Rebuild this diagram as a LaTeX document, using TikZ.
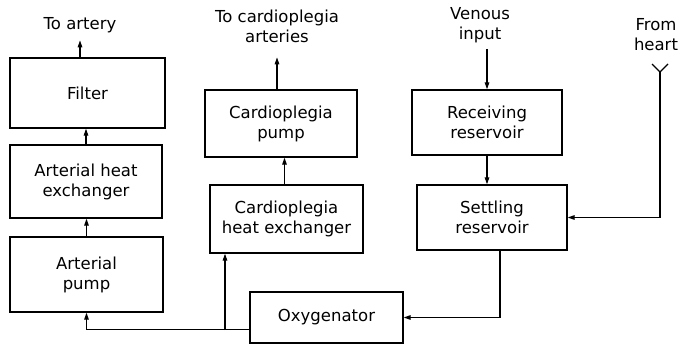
\documentclass[tikz,border=0pt]{standalone}
\usepackage{fontspec}
\setmainfont{DejaVu Sans}
\usepackage{tikz}
\usetikzlibrary{arrows.meta, positioning}

\begin{document}
\begin{tikzpicture}[
  x=1pt, y=-1pt,
  font=\fontsize{16.5}{20}\selectfont,
  blk/.style={draw, line width=1.3pt, align=center, inner sep=2pt},
  lbl/.style={align=center, inner sep=1pt},
  arr/.style={-{Triangle[length=7pt,width=4.5pt]}, line width=1.2pt},
  ln/.style={line width=1.2pt}
]
\useasboundingbox (0,0) rectangle (679,353);

% left column
\node[blk, minimum width=155pt, minimum height=70pt] (filt)  at (87.5,93)  {Filter};
\node[blk, minimum width=152pt, minimum height=73pt] (ahx)   at (86,181.5) {Arterial heat\\exchanger};
\node[blk, minimum width=153pt, minimum height=75pt] (apump) at (86.5,274.5) {Arterial\\pump};
\node[lbl] (toart) at (80,25) {To artery};

% middle column
\node[blk, minimum width=152pt, minimum height=67pt] (cpump) at (281,123.5) {Cardioplegia\\pump};
\node[blk, minimum width=153pt, minimum height=68pt] (chx)   at (286.5,219) {Cardioplegia\\heat exchanger};
\node[blk, minimum width=153pt, minimum height=51pt] (oxy)   at (326.5,317.5) {Oxygenator};
\node[lbl] (tocard) at (277,26) {To cardioplegia\\arteries};

% right column
\node[blk, minimum width=150pt, minimum height=65pt] (rres) at (487,122.5) {Receiving\\reservoir};
\node[blk, minimum width=150pt, minimum height=65pt] (sres) at (492,217.5) {Settling\\reservoir};
\node[lbl] (ven)   at (480,25) {Venous\\input};
\node[lbl] (fromh) at (656,35) {From\\heart};

\coordinate (fk) at (660,72);
\coordinate (jn) at (225,330);

\draw[arr] (filt.north -| toart) -- ++(0,-17);
\draw[arr] (ahx.north) -- (ahx.north |- filt.south);
\draw[arr] (apump.north) -- (apump.north |- ahx.south);

\draw[arr] (cpump.north -| tocard) -- ++(0,-32);
\draw[arr] ([xshift=-2pt]chx.north) -- ([xshift=-2pt]chx.north |- cpump.south);

\draw[arr] (ven.south -| rres) ++(0,5) -- (rres.north);
\draw[arr] (rres.south) -- (rres.south |- sres.north);

\draw[ln] (fk) -- ++(-8,-8) (fk) -- ++(8,-8);
\draw[arr] (fk) |- (sres.east);
\draw[arr] ([xshift=8pt]sres.south) |- (oxy.east);
\draw[arr] ([yshift=-12pt]oxy.west) -| (apump.south);
\draw[arr] (jn) -- (jn |- chx.south);
\end{tikzpicture}
\end{document}
